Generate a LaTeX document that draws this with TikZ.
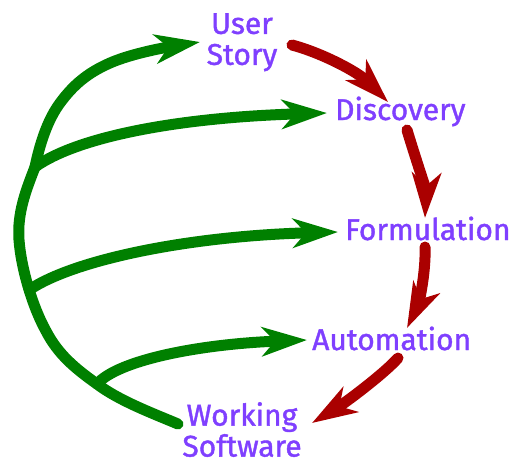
\documentclass[tikz,border=0pt]{standalone}
\usepackage{fontspec}
\setmainfont{Fira Sans}[FakeBold=1.3]
\usetikzlibrary{arrows.meta}
\definecolor{lab}{HTML}{7F3FFF}
\definecolor{grn}{HTML}{008000}
\definecolor{rd}{HTML}{AA0000}
\begin{document}
\begin{tikzpicture}[x=1pt,y=-1pt,
  lbl/.style={text=lab, font=\fontsize{30}{31}\selectfont, inner sep=0pt},
  conn/.style={line width=11pt, line cap=round, -{Stealth[length=45pt,width=29pt,inset=13pt]}},
  redc/.style={conn, draw=rd},
  grnc/.style={conn, draw=grn}]
\useasboundingbox (0,0) rectangle (526,469);
% labels
\node[lbl, anchor=north, align=center] (us) at (242,13) {User\\Story};
\node[lbl, anchor=base west] (disc) at (335,120) {Discovery};
\node[lbl, anchor=base west] (form) at (345,240) {Formulation};
\node[lbl, anchor=base west] (auto) at (312,350) {Automation};
\node[lbl, anchor=north, align=center] (ws) at (242,402) {Working\\Software};
% junctions on the green arc
\coordinate (j1) at (35,167);
\coordinate (j2) at (29,290);
\coordinate (j3) at (97,384);
% green arc
\draw[grnc] ([shift={(-64,22)}]ws.north) .. controls (152,413) and (119.2,400.8) .. (j3)
  .. controls (74.8,368.2) and (58,354.2) .. (46,331)
  .. controls (32,305.8) and (21,267.2) .. (19,240)
  .. controls (17,212.8) and (26.2,189.8) .. (j1)
  .. controls (39.8,144.2) and (47.2,120.3) .. (60,103)
  .. controls (72.8,85.7) and (86.7,73.2) .. (110,63)
  .. controls (133.3,52.8) and (170,46.7) .. ([shift={(-42,29)}]us.north);
% green branches
\draw[grnc] (j1) .. controls (77,137) and (177,117.5) .. ([shift={(-8,-7)}]disc.base west);
\draw[grnc] (j2) .. controls (73,260) and (188,236) .. ([shift={(-7,-8)}]form.base west);
\draw[grnc] (j3) .. controls (118,360) and (200,344) .. ([shift={(-5,-10)}]auto.base west);
% red arrows
\draw[redc] ([shift={(50,32)}]us.north) .. controls (322,53) and (358,72) .. ([shift={(53,-18)}]disc.base west);
\draw[redc] ([shift={(72,10)}]disc.base west) .. controls (413,150) and (426,190) .. ([shift={(80,-22)}]form.base west);
\draw[redc] ([shift={(80,7)}]form.base west) .. controls (426,275) and (418,305) .. ([shift={(95,-22)}]auto.base west);
\draw[redc] ([shift={(86,8)}]auto.base west) .. controls (385,373) and (345,403) .. ([shift={(70,21)}]ws.north);
\end{tikzpicture}
\end{document}
